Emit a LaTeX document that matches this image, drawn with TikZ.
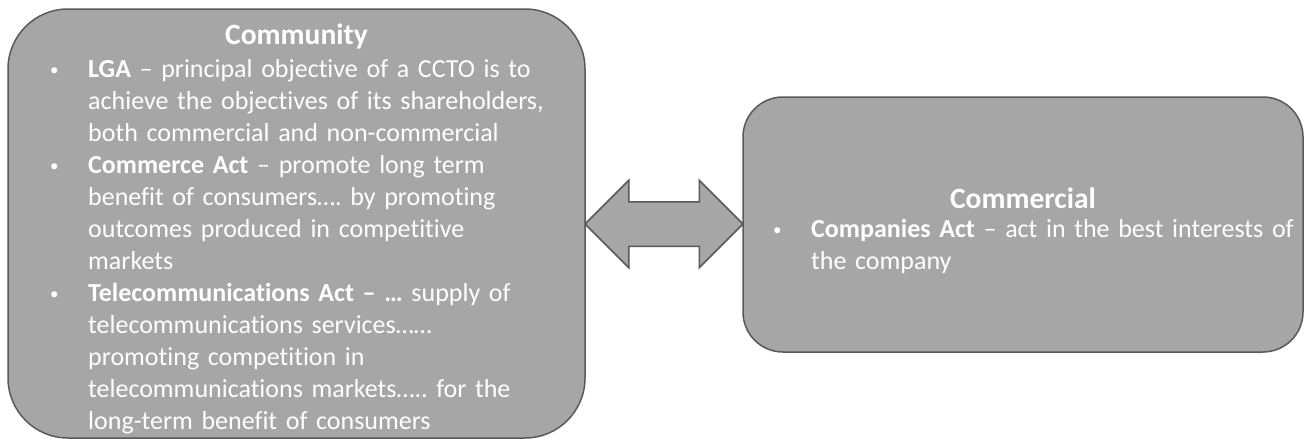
\documentclass[tikz,border=0pt]{standalone}
\usepackage{fontspec}
\setmainfont{Carlito}[Ligatures=NoCommon]
\usetikzlibrary{shapes.arrows,positioning,calc}

\definecolor{panelfill}{HTML}{A6A6A6}
\definecolor{panelline}{HTML}{595959}

\tikzset{
	panel/.style={draw=panelline, fill=panelfill, line width=1.5pt, inner sep=0pt},
	paneltitle/.style={text=white, inner sep=0pt, font=\fontsize{29.5}{32}\selectfont\bfseries},
	panellist/.style={text=white, inner sep=0pt, align=left, font=\fontsize{26}{32}\selectfont\frenchspacing},
	linkarrow/.style={double arrow, draw=panelline, fill=panelfill, line width=1.5pt, inner xsep=0pt, inner ysep=21.5pt,
		double arrow head extend=21.5pt, double arrow tip angle=90}
}

\newcommand{\bpoint}[1]{\par\noindent\hangindent=38pt\hangafter=1\makebox[38pt][l]{\raisebox{2pt}{\fontsize{17}{17}\selectfont\textbullet}}\strut#1\par}

\begin{document}
\begin{tikzpicture}[x=1pt,y=-1pt]
\useasboundingbox (0,0) rectangle (1310,439);

\node[panel, minimum width=577pt, minimum height=429pt, rounded corners=60pt] (community) at (296.5,223.5) {};
\node[panel, minimum width=560pt, minimum height=255pt, rounded corners=40pt] (commercial) at (1023,224.5) {};

\node[linkarrow, minimum height=158pt] (link) at ($(community.east)!0.5!(commercial.west)$) {};

\node[paneltitle, anchor=base] (community-title) at (296.5,44.5) {Community};
\node[panellist, anchor=north west, text width=540pt] (community-list) at (50,45) {%
\bpoint{\textbf{LGA} – principal objective of a CCTO is to\newline\strut achieve the objectives of its shareholders,\newline\strut both commercial and non-commercial}
\bpoint{\textbf{Commerce Act} – promote long term\newline\strut benefit of consumers…. by promoting\newline\strut outcomes produced in competitive\newline\strut markets}
\bpoint{\textbf{Telecommunications Act – …} supply of\newline\strut telecommunications services……\newline\strut promoting competition in\newline\strut telecommunications markets….. for the\newline\strut long-term benefit of consumers}};

\node[paneltitle, anchor=base] (commercial-title) at (1023,208.5) {Commercial};
\node[panellist, anchor=north west, text width=530pt] (commercial-list) at (773,205) {%
\bpoint{\textbf{Companies Act} – act in the best interests of\newline\strut the company}};

\end{tikzpicture}
\end{document}
